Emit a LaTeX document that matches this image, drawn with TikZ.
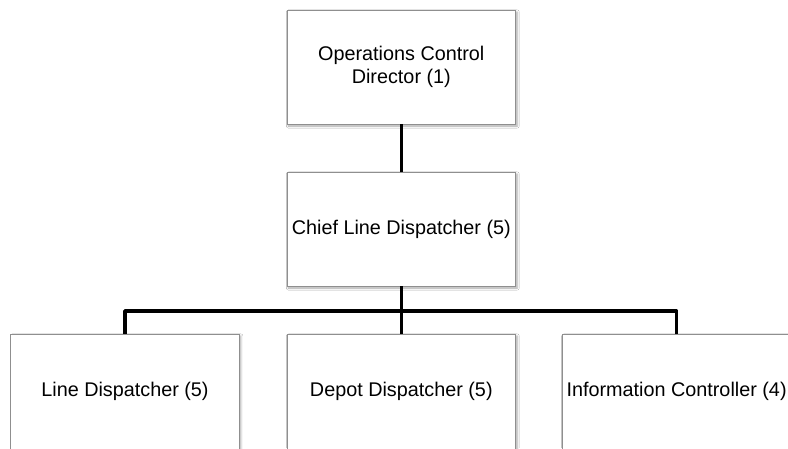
\documentclass[tikz,border=0pt]{standalone}
\usepackage{fontspec}
\setmainfont{Liberation Sans}
\usetikzlibrary{shadows.blur}
\definecolor{boxline}{HTML}{8F8F8F}
\tikzset{
  orgbox/.style={draw=boxline, line width=0.9pt, fill=white, rectangle,
    minimum width=228.6pt, minimum height=114pt, inner sep=0pt,
    align=center, font=\fontsize{19.8}{23}\selectfont,
    blur shadow={shadow xshift=1.5pt, shadow yshift=-2pt,
      shadow blur steps=6, shadow opacity=35}},
  conn/.style={draw=black, line width=3.6pt, line join=round}
}
\begin{document}
\begin{tikzpicture}[x=1pt, y=-1pt]
  \useasboundingbox (0,0) rectangle (788,448);
  \clip (0,0) rectangle (788,448);
  \fill[white] (0,0) rectangle (788,448);
  % hierarchy boxes
  \node[orgbox] (ocd) at (401.3,67) {Operations Control\\Director (1)};
  \node[orgbox] (cld) at (401.3,229) {Chief Line Dispatcher (5)};
  \node[orgbox, minimum height=115pt] (ld) at (125,391.5) {Line Dispatcher (5)};
  \node[orgbox, minimum height=115pt] (dd) at (401.3,391.5) {Depot Dispatcher (5)};
  \node[orgbox, minimum height=115pt] (ic) at (676.6,391.5) {Information Controller (4)};
  % reporting lines
  \coordinate (bus) at (0,311);
  \draw[conn] (ocd.south) -- (cld.north);
  \draw[conn] (cld.south) -- (dd.north);
  \draw[conn] (ld.north) -- (ld.north |- bus) -- (ic.north |- bus) -- (ic.north);
\end{tikzpicture}
\end{document}
